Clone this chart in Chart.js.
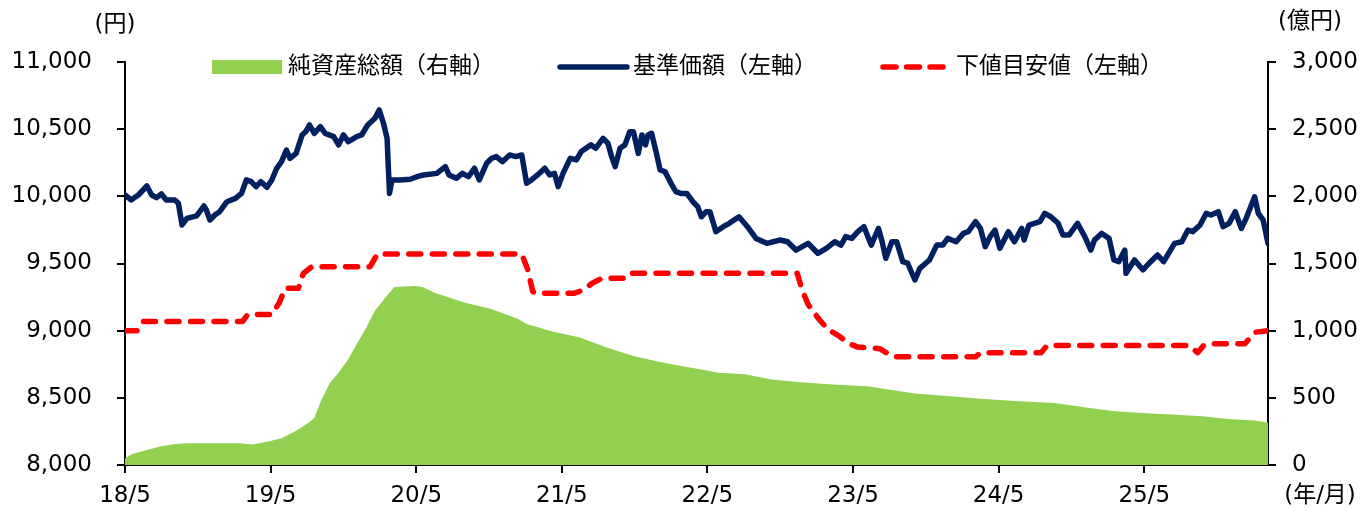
<!DOCTYPE html>
<html lang="ja">
<head>
<meta charset="utf-8">
<title>基準価額・純資産総額の推移</title>
<script src="https://cdn.jsdelivr.net/npm/chart.js@4.4.1/dist/chart.umd.min.js"></script>
<style>
  html, body { margin: 0; padding: 0; background: #fff; }
  #wrap { width: 1363px; height: 511px; }
</style>
</head>
<body>
<div id="wrap"><canvas id="navChart" width="1363" height="511"></canvas></div>
<script>
// x = months since 2018/5
const xTickMonths = [0, 12, 24, 36, 48, 60, 72, 84];
const xTickLabels = ['18/5', '19/5', '20/5', '21/5', '22/5', '23/5', '24/5', '25/5'];
const lastMonth = 94.2;

// 基準価額 (円, left axis)
const navMonths = [
  0.0, 0.5, 1.1, 1.8, 2.2, 2.6, 3.0, 3.4, 4.1, 4.4, 4.7, 5.1, 5.9, 6.5, 6.7, 7.0, 7.4, 7.8, 8.4, 9.1,
  9.6, 10.0, 10.4, 10.8, 11.2, 11.7, 12.1, 12.5, 12.9, 13.3, 13.6, 14.1, 14.6, 14.9, 15.2, 15.6, 16.1, 16.5, 17.2, 17.6,
  18.0, 18.4, 19.1, 19.5, 20.0, 20.6, 20.95, 21.3, 21.6, 21.7, 21.8, 22.0, 22.7, 23.5, 24.2, 24.6, 25.7, 26.4, 26.7, 27.3,
  27.8, 28.3, 28.8, 29.2, 29.8, 30.2, 30.6, 31.1, 31.7, 32.2, 32.7, 33.1, 33.5, 34.0, 34.6, 35.0, 35.4, 35.7, 36.1, 36.7,
  37.2, 37.6, 38.4, 38.8, 39.4, 39.8, 40.1, 40.4, 40.8, 41.2, 41.6, 41.9, 42.3, 42.6, 42.9, 43.1, 43.4, 43.8, 44.1, 44.5,
  45.0, 45.4, 45.8, 46.3, 46.8, 47.2, 47.5, 47.9, 48.2, 48.7, 49.3, 49.8, 50.6, 51.3, 52.0, 52.9, 54.0, 54.6, 55.3, 56.3,
  57.1, 57.8, 58.5, 59.0, 59.4, 59.9, 60.4, 60.9, 61.5, 62.1, 62.4, 62.7, 63.2, 63.6, 64.1, 64.5, 65.1, 65.5, 66.3, 66.9,
  67.4, 67.8, 68.5, 69.1, 69.5, 70.1, 70.5, 70.9, 71.3, 71.7, 72.1, 72.8, 73.3, 73.9, 74.1, 74.5, 75.4, 75.8, 76.3, 76.9,
  77.3, 77.8, 78.5, 79.1, 79.6, 79.9, 80.5, 81.1, 81.5, 81.9, 82.4, 82.5, 83.2, 83.9, 84.4, 85.1, 85.6, 86.5, 87.1, 87.6,
  88.0, 88.6, 89.1, 89.5, 90.1, 90.5, 91.0, 91.5, 92.0, 92.4, 93.1, 93.4, 93.8, 94.2
];
const navValues = [
  10010, 9973, 10010, 10077, 10010, 9990, 10018, 9973, 9973, 9948, 9787, 9836, 9854, 9928, 9898, 9824, 9861, 9886, 9960, 9985,
  10022, 10122, 10109, 10072, 10109, 10067, 10122, 10209, 10258, 10345, 10283, 10320, 10457, 10482, 10531, 10469, 10519, 10469, 10445, 10383,
  10457, 10407, 10445, 10457, 10531, 10581, 10643, 10544, 10432, 10221, 10022, 10122, 10122, 10127, 10150, 10159, 10171, 10221, 10159, 10134,
  10171, 10147, 10209, 10122, 10246, 10283, 10296, 10258, 10308, 10296, 10308, 10097, 10122, 10159, 10209, 10159, 10171, 10072, 10171, 10283,
  10271, 10333, 10383, 10358, 10432, 10395, 10296, 10221, 10358, 10383, 10481, 10481, 10320, 10457, 10383, 10457, 10469, 10320, 10196, 10184,
  10097, 10035, 10022, 10022, 9960, 9923, 9848, 9886, 9886, 9737, 9774, 9799, 9848, 9774, 9687, 9650, 9675, 9662, 9600, 9650,
  9576, 9613, 9662, 9637, 9700, 9687, 9737, 9774, 9637, 9761, 9662, 9539, 9662, 9662, 9514, 9502, 9377, 9464, 9526, 9637,
  9637, 9687, 9662, 9724, 9737, 9811, 9761, 9625, 9700, 9749, 9613, 9737, 9662, 9761, 9675, 9786, 9811, 9873, 9848, 9799,
  9712, 9712, 9799, 9700, 9600, 9675, 9724, 9687, 9526, 9514, 9600, 9427, 9526, 9452, 9502, 9563, 9514, 9650, 9662, 9749,
  9737, 9786, 9873, 9861, 9886, 9774, 9799, 9886, 9761, 9836, 9997, 9873, 9824, 9650
];

// 下値目安値 (円, left axis)
const floorMonths = [
  0, 1.0, 1.5, 9.7, 10.1, 12.1, 12.7, 13.2, 14.3, 14.7, 15.4, 20.2, 20.8, 32.7, 33.2, 33.6, 33.9, 37.0, 37.8, 38.5,
  39.3, 41.2, 41.6, 55.4, 55.8, 56.3, 57.2, 57.9, 58.8, 59.7, 60.4, 62.2, 63.1, 63.5, 70.1, 70.5, 75.5, 76.0, 87.7, 88.1,
  88.4, 88.9, 89.3, 92.3, 93.1, 94.2
];
const floorValues = [
  9000, 9000, 9069, 9069, 9120, 9120, 9205, 9316, 9316, 9427, 9476, 9476, 9570, 9570, 9452, 9291, 9278, 9278, 9304, 9353,
  9390, 9390, 9427, 9427, 9305, 9195, 9085, 9012, 8963, 8902, 8878, 8866, 8817, 8805, 8805, 8836, 8836, 8890, 8890, 8860,
  8836, 8890, 8902, 8902, 8988, 9000
];

// 純資産総額 (億円, right axis)
const aumMonths = [
  0, 0.6, 1.8, 2.9, 4.0, 5.0, 8.1, 9.5, 10.5, 11.8, 12.9, 14.0, 15.1, 15.6, 16.2, 16.9, 17.6, 18.4, 19.1, 19.9,
  20.6, 21.5, 22.2, 23.9, 24.5, 25.7, 26.2, 27.9, 30.2, 32.4, 33.1, 35.3, 37.5, 39.7, 41.9, 43.7, 45.6, 47.4, 48.9, 51.1,
  53.3, 55.4, 58.3, 61.2, 62.9, 65.1, 68.0, 70.8, 73.7, 76.6, 79.5, 81.6, 83.8, 86.6, 88.8, 90.9, 93.1, 94.2
];
const aumValues = [
  50, 82, 112, 137, 155, 162, 162, 162, 152, 175, 200, 250, 312, 350, 487, 612, 687, 787, 900, 1025,
  1150, 1250, 1325, 1332, 1325, 1275, 1262, 1212, 1162, 1087, 1050, 992, 950, 875, 812, 775, 740, 712, 687, 675,
  637, 617, 600, 587, 562, 532, 512, 492, 475, 462, 425, 400, 387, 375, 362, 342, 332, 317
];

const toPoints = (xs, ys) => xs.map((x, i) => ({ x: x, y: ys[i] }));

const FONT = "23px 'DejaVu Sans', 'Noto Sans CJK JP', sans-serif";
Chart.defaults.font.family = "'DejaVu Sans', 'Noto Sans CJK JP', sans-serif";
Chart.defaults.font.size = 23;
Chart.defaults.color = '#000';

// legend row sits inside the plot, just under its top edge
const legendBoxX = [212, 557, 880];
const legendBoxW = 72;

const extras = {
  id: 'extras',
  afterDraw(chart) {
    const { ctx, chartArea } = chart;
    ctx.save();
    ctx.font = FONT;
    ctx.fillStyle = '#000';
    ctx.textAlign = 'center';
    ctx.textBaseline = 'middle';
    ctx.fillText('(円)', chartArea.left - 10, 25);
    ctx.fillText('(億円)', chartArea.right + 42, 22);
    ctx.fillText('(年/月)', chartArea.right + 52, 496);

    const ly = chartArea.top + 5;
    chart.data.datasets.forEach((ds, i) => {
      const x0 = legendBoxX[i];
      ctx.save();
      if (ds.fill) {
        ctx.fillStyle = ds.backgroundColor;
        ctx.fillRect(x0, ly - 7, legendBoxW - 2, 14);
      } else {
        ctx.strokeStyle = ds.borderColor;
        ctx.lineWidth = ds.borderWidth;
        ctx.lineCap = 'round';
        ctx.setLineDash(ds.borderDash ? [13, 10.5] : []);
        ctx.beginPath();
        ctx.moveTo(x0 + 3, ly);
        ctx.lineTo(x0 + legendBoxW - 2, ly);
        ctx.stroke();
      }
      ctx.restore();
      ctx.textAlign = 'left';
      ctx.fillStyle = '#000';
      ctx.fillText(ds.label, x0 + legendBoxW + 4, ly);
    });
    ctx.restore();
  }
};

const fmt = v => v.toLocaleString('en-US');

new Chart(document.getElementById('navChart'), {
  type: 'line',
  data: {
    datasets: [
      {
        label: '純資産総額（右軸）',
        data: toPoints(aumMonths, aumValues),
        yAxisID: 'y1',
        backgroundColor: '#92D050',
        borderColor: '#92D050',
        borderWidth: 0,
        fill: 'origin',
        pointRadius: 0,
        order: 3
      },
      {
        label: '基準価額（左軸）',
        data: toPoints(navMonths, navValues),
        yAxisID: 'y',
        borderColor: '#002060',
        borderWidth: 5.5,
        borderJoinStyle: 'round',
        borderCapStyle: 'round',
        fill: false,
        pointRadius: 0,
        order: 1
      },
      {
        label: '下値目安値（左軸）',
        data: toPoints(floorMonths, floorValues),
        yAxisID: 'y',
        borderColor: '#FF0000',
        borderWidth: 5.5,
        borderDash: [12, 11.5],
        borderCapStyle: 'round',
        borderJoinStyle: 'round',
        fill: false,
        pointRadius: 0,
        order: 2
      }
    ]
  },
  options: {
    responsive: false,
    animation: false,
    devicePixelRatio: 1,
    layout: { padding: { top: 62, left: 0, right: 0, bottom: 0 } },
    elements: { line: { tension: 0 } },
    plugins: {
      tooltip: { enabled: false },
      legend: { display: false }
    },
    scales: {
      x: {
        type: 'linear',
        min: 0,
        max: lastMonth,
        afterBuildTicks: axis => { axis.ticks = xTickMonths.map(v => ({ value: v })); },
        afterFit: s => { s.height = 46; },
        ticks: {
          padding: 9,
          maxRotation: 0,
          autoSkip: false,
          callback: v => xTickLabels[xTickMonths.indexOf(v)]
        },
        grid: { drawOnChartArea: false, tickLength: 8, color: '#000', lineWidth: 2 },
        border: { color: '#000', width: 2 }
      },
      y: {
        position: 'left',
        min: 8000,
        max: 11000,
        afterFit: s => { s.width = 125; },
        ticks: { stepSize: 500, padding: 25, callback: fmt },
        grid: { drawOnChartArea: false, tickLength: 8, color: '#000', lineWidth: 2 },
        border: { color: '#000', width: 2 }
      },
      y1: {
        position: 'right',
        min: 0,
        max: 3000,
        afterFit: s => { s.width = 95; },
        ticks: { stepSize: 500, padding: 16, callback: fmt },
        grid: { drawOnChartArea: false, tickLength: 8, color: '#000', lineWidth: 2 },
        border: { color: '#000', width: 2 }
      }
    }
  },
  plugins: [extras]
});
</script>
</body>
</html>
